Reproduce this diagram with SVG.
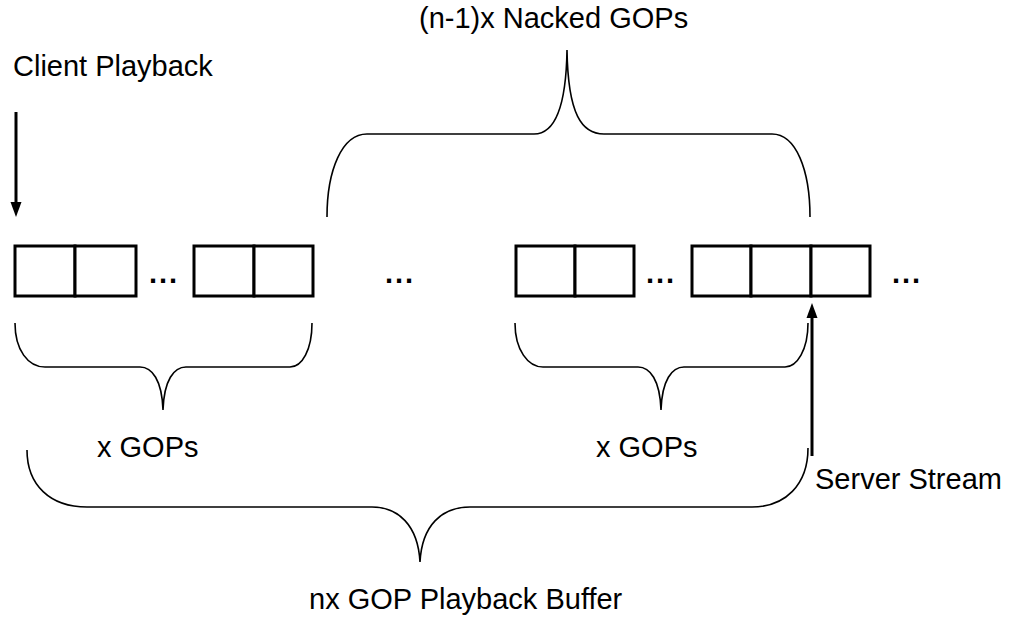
<svg xmlns="http://www.w3.org/2000/svg" width="1010" height="617" viewBox="0 0 1010 617">
  <style>
    .lbl { font-family: "Liberation Sans", Arial, Helvetica, sans-serif; font-size: 29px; fill: #000; }
    .dots { font-family: "Liberation Sans", Arial, Helvetica, sans-serif; font-size: 29px; font-weight: bold; letter-spacing: 2px; fill: #000; }
    .cell { fill: #fff; stroke: #000; stroke-width: 3; }
    .brace { fill: none; stroke: #000; stroke-width: 1.6; }
    .arrow { fill: none; stroke: #000; stroke-width: 3; }
  </style>
  <defs>
    <marker id="head" viewBox="0 0 15 12" refX="5" refY="6" markerWidth="15" markerHeight="12" markerUnits="userSpaceOnUse" orient="auto">
      <path d="M0,0.5 L15,6 L0,11.5 Z" fill="#000"/>
    </marker>
  </defs>
  <rect width="1010" height="617" fill="#fff"/>

  <!-- GOP buffer cells -->
  <g id="gop-group-1">
    <rect class="cell" x="15" y="246" width="60" height="50"/>
    <rect class="cell" x="75" y="246" width="61" height="50"/>
  </g>
  <text class="dots" x="149" y="283">...</text>
  <g id="gop-group-2">
    <rect class="cell" x="194" y="246" width="60" height="50"/>
    <rect class="cell" x="254" y="246" width="59" height="50"/>
  </g>
  <text class="dots" x="385" y="283">...</text>
  <g id="gop-group-3">
    <rect class="cell" x="516" y="246" width="59" height="50"/>
    <rect class="cell" x="575" y="246" width="59" height="50"/>
  </g>
  <text class="dots" x="646" y="283">...</text>
  <g id="gop-group-4">
    <rect class="cell" x="692" y="246" width="59" height="50"/>
    <rect class="cell" x="751" y="246" width="60" height="50"/>
    <rect class="cell" x="811" y="246" width="59" height="50"/>
  </g>
  <text class="dots" x="892" y="283">...</text>

  <!-- braces -->
  <g id="brace-nacked">
    <path class="brace" d="M327,217 C327,170 342,134 367,134 H534 C552,134 566,115 567,50 C568,115 582,134 604,134 H772 C796,134 810,170 810,217"/>
    <text class="lbl" x="419" y="28">(n-1)x Nacked GOPs</text>
  </g>
  <g id="brace-x-left">
    <path class="brace" d="M15,323 C15,350 28,367 45,367 H140 C152,367 162,380 163,410 C164,380 174,367 186,367 H290 C302,367 312,350 312,323"/>
    <text class="lbl" x="97" y="457">x GOPs</text>
  </g>
  <g id="brace-x-right">
    <path class="brace" d="M515,323 C515,350 528,367 543,367 H638 C650,367 660,380 661,410 C662,380 672,367 684,367 H785 C797,367 808,350 808,323"/>
    <text class="lbl" x="596" y="457">x GOPs</text>
  </g>
  <g id="brace-buffer">
    <path class="brace" d="M27,450 C27,485 50,507 87,507 H372 C398,507 418,525 420,562 C422,525 442,507 470,507 H752 C785,507 808,485 808,448"/>
    <text class="lbl" x="309" y="609">nx GOP Playback Buffer</text>
  </g>

  <!-- pointers -->
  <g id="connectors">
    <path class="arrow" d="M16,112 V207" marker-end="url(#head)"/>
    <path class="arrow" d="M812,456 V313" marker-end="url(#head)"/>
  </g>
  <g id="client-playback">
    <text class="lbl" x="13" y="76">Client Playback</text>
  </g>
  <g id="server-stream">
    <text class="lbl" x="815" y="489">Server Stream</text>
  </g>
</svg>
